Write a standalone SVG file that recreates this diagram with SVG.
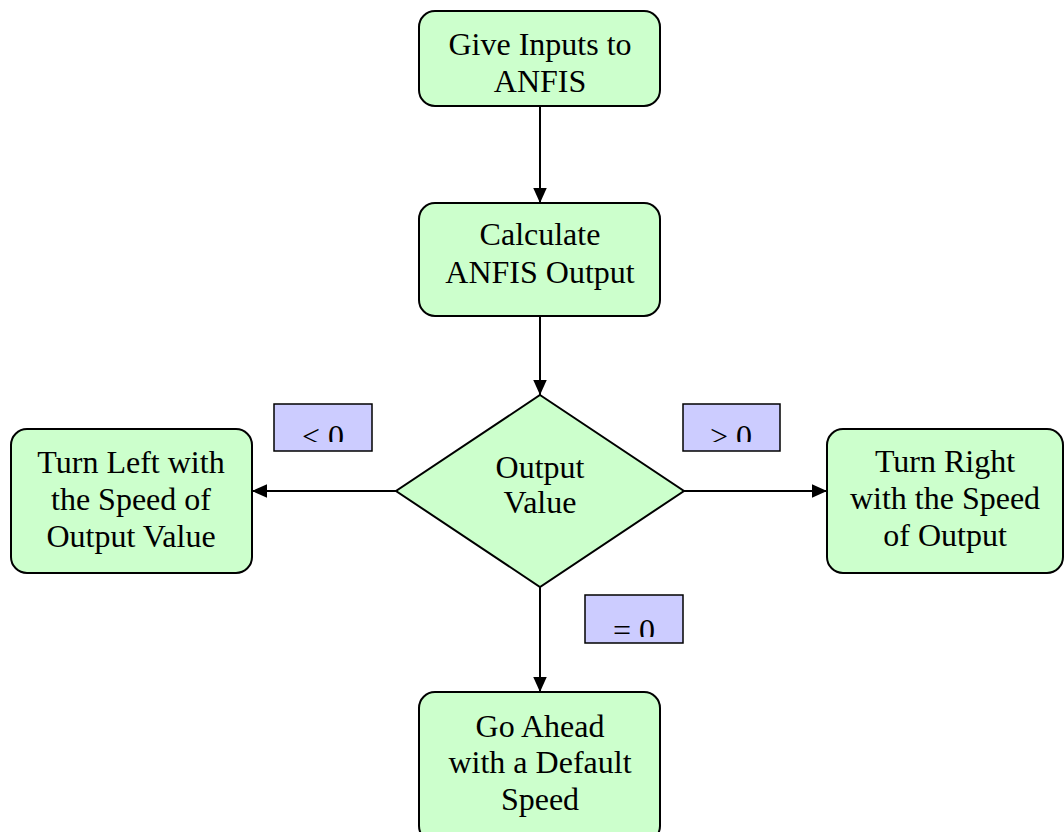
<svg xmlns="http://www.w3.org/2000/svg" width="1064" height="832" viewBox="0 0 1064 832">
<style>
.node{fill:#ccffcc;stroke:#000;stroke-width:2}
.lbl{fill:#ccccff;stroke:#000;stroke-width:1.5}
text{font-family:"Liberation Serif","Times New Roman",serif;font-size:32px;fill:#000;text-anchor:middle}
.edge{stroke:#000;stroke-width:2;fill:none;marker-end:url(#ah)}
</style>
<defs>
<marker id="ah" viewBox="0 0 10 10" refX="10" refY="5" markerWidth="15" markerHeight="15" markerUnits="userSpaceOnUse" orient="auto"><path d="M0,0.5L10,5L0,9.5z" fill="#000"/></marker>
<clipPath id="c1"><rect x="274" y="404" width="98" height="38"/></clipPath>
<clipPath id="c2"><rect x="683" y="404" width="98" height="38"/></clipPath>
<clipPath id="c3"><rect x="585" y="595" width="98" height="42"/></clipPath>
</defs>
<g id="connectors">
<line class="edge" x1="540" y1="107" x2="540" y2="203"/>
<line class="edge" x1="540" y1="316" x2="540" y2="395"/>
<line class="edge" x1="396" y1="491" x2="252" y2="491"/>
<line class="edge" x1="684" y1="491" x2="827" y2="491"/>
<line class="edge" x1="540" y1="587" x2="540" y2="692"/>
</g>
<g id="n1"><rect class="node" x="419" y="11" width="241" height="95" rx="16"/><text x="540" y="55">Give Inputs to</text><text x="540" y="92">ANFIS</text></g>
<g id="n2"><rect class="node" x="419" y="203" width="241" height="113" rx="16"/><text x="540" y="245">Calculate</text><text x="540" y="283">ANFIS Output</text></g>
<g id="n3"><polygon class="node" points="540,395 684,491 540,587 396,491"/><text x="540" y="478">Output</text><text x="540" y="513">Value</text></g>
<g id="n4"><rect class="node" x="11" y="429" width="241" height="144" rx="16"/><text x="131" y="473">Turn Left with</text><text x="131" y="510">the Speed of</text><text x="131" y="547">Output Value</text></g>
<g id="n5"><rect class="node" x="827" y="429" width="236" height="144" rx="16"/><text x="945" y="472">Turn Right</text><text x="945" y="509">with the Speed</text><text x="945" y="546">of Output</text></g>
<g id="n6"><rect class="node" x="419" y="692" width="241" height="150" rx="16"/><text x="540" y="737">Go Ahead</text><text x="540" y="773">with a Default</text><text x="540" y="810">Speed</text></g>
<g id="l1"><rect class="lbl" x="274" y="404" width="98" height="47"/><text x="323" y="447" clip-path="url(#c1)">&lt; 0</text></g>
<g id="l2"><rect class="lbl" x="683" y="404" width="97" height="47"/><text x="731" y="447" clip-path="url(#c2)">&gt; 0</text></g>
<g id="l3"><rect class="lbl" x="585" y="595" width="98" height="48"/><text x="634" y="641" clip-path="url(#c3)">= 0</text></g>
</svg>
